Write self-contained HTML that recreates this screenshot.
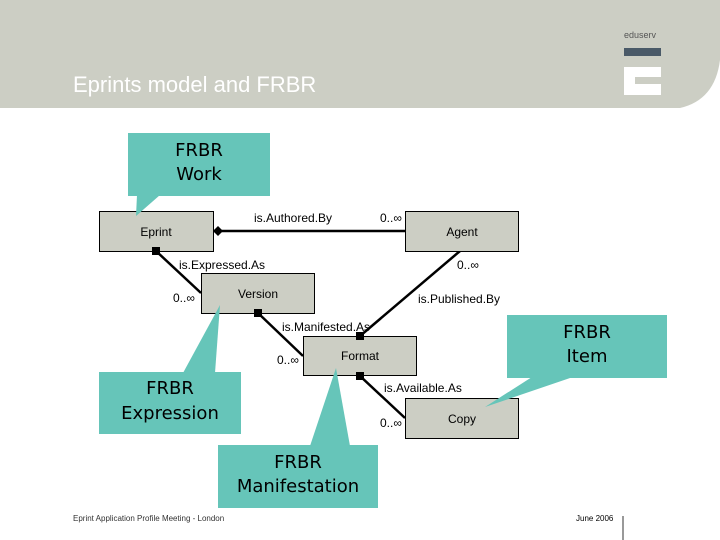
<!DOCTYPE html>
<html><head><meta charset="utf-8"><style>
html,body{margin:0;padding:0;background:#fff;}
svg{display:block;}
</style></head><body>
<svg width="720" height="540" xmlns="http://www.w3.org/2000/svg" font-family="'Liberation Sans', 'DejaVu Sans', sans-serif">
<path d="M0 0 H720 V60 Q715 100 680 108 H0 Z" fill="#cccec4"/>
<text x="73" y="92" font-size="22" fill="#ffffff">Eprints model and FRBR</text>
<text x="624" y="38" font-size="9" fill="#555">eduserv</text>
<rect x="624" y="48" width="37" height="8" fill="#4a5a68"/>
<rect x="624" y="67" width="37" height="28" fill="#fff"/>
<rect x="635" y="77" width="26" height="7" fill="#cccec4"/>
<g stroke="#000" stroke-width="2.5">
<line x1="213" y1="231" x2="405" y2="231"/>
<line x1="156" y1="251" x2="201" y2="293"/>
<line x1="258" y1="313" x2="303" y2="356"/>
<line x1="460" y1="251" x2="360" y2="336"/>
<line x1="360" y1="376" x2="405" y2="418"/>
</g>
<g fill="#cccec4" stroke="#000" stroke-width="1">
<rect x="99.5" y="211.5" width="114" height="40"/>
<rect x="405.5" y="211.5" width="113" height="40"/>
<rect x="201.5" y="273.5" width="113" height="40"/>
<rect x="303.5" y="336.5" width="113" height="39"/>
<rect x="405.5" y="398.5" width="113" height="40"/>
</g>
<g fill="#000">
<polygon points="213,231 218,226 223,231 218,236"/>
<rect x="152" y="247" width="8" height="8"/>
<rect x="254" y="309" width="8" height="8"/>
<rect x="356" y="332" width="8" height="8"/>
<rect x="356" y="372" width="8" height="8"/>
</g>
<g fill="#66c5b9">
<rect x="128" y="133" width="142" height="63"/>
<polygon points="137,195 160,195 136,216"/>
<rect x="507" y="315" width="160" height="63"/>
<polygon points="532,377 573,377 485,407"/>
<rect x="99" y="372" width="142" height="62"/>
<polygon points="183,373 215,373 220,305"/>
<rect x="218" y="445" width="160" height="63"/>
<polygon points="310,446 350,446 336,368"/>
</g>
<g font-family="'DejaVu Sans', sans-serif" font-size="18" fill="#000" text-anchor="middle">
<text x="199" y="156">FRBR</text><text x="199" y="180">Work</text>
<text x="587" y="338">FRBR</text><text x="587" y="362">Item</text>
<text x="170" y="394">FRBR</text><text x="170" y="419">Expression</text>
<text x="298" y="468">FRBR</text><text x="298" y="492">Manifestation</text>
</g>
<g font-size="12" fill="#000">
<text x="156" y="236" text-anchor="middle">Eprint</text>
<text x="462" y="236" text-anchor="middle">Agent</text>
<text x="258" y="298" text-anchor="middle">Version</text>
<text x="360" y="360" text-anchor="middle">Format</text>
<text x="462" y="423" text-anchor="middle">Copy</text>
<text x="254" y="222">is.Authored.By</text>
<text x="380" y="222">0..∞</text>
<text x="179" y="269">is.Expressed.As</text>
<text x="457" y="269">0..∞</text>
<text x="173" y="302">0..∞</text>
<text x="418" y="303">is.Published.By</text>
<text x="282" y="331">is.Manifested.As</text>
<text x="277" y="364">0..∞</text>
<text x="384" y="392">is.Available.As</text>
<text x="380" y="427">0..∞</text>
</g>
<text x="73" y="521" font-size="8" fill="#333">Eprint Application Profile Meeting - London</text>
<text x="576" y="521" font-size="8" fill="#000">June 2006</text>
<line x1="623" y1="516" x2="623" y2="540" stroke="#333" stroke-width="1"/>
</svg>
</body></html>
